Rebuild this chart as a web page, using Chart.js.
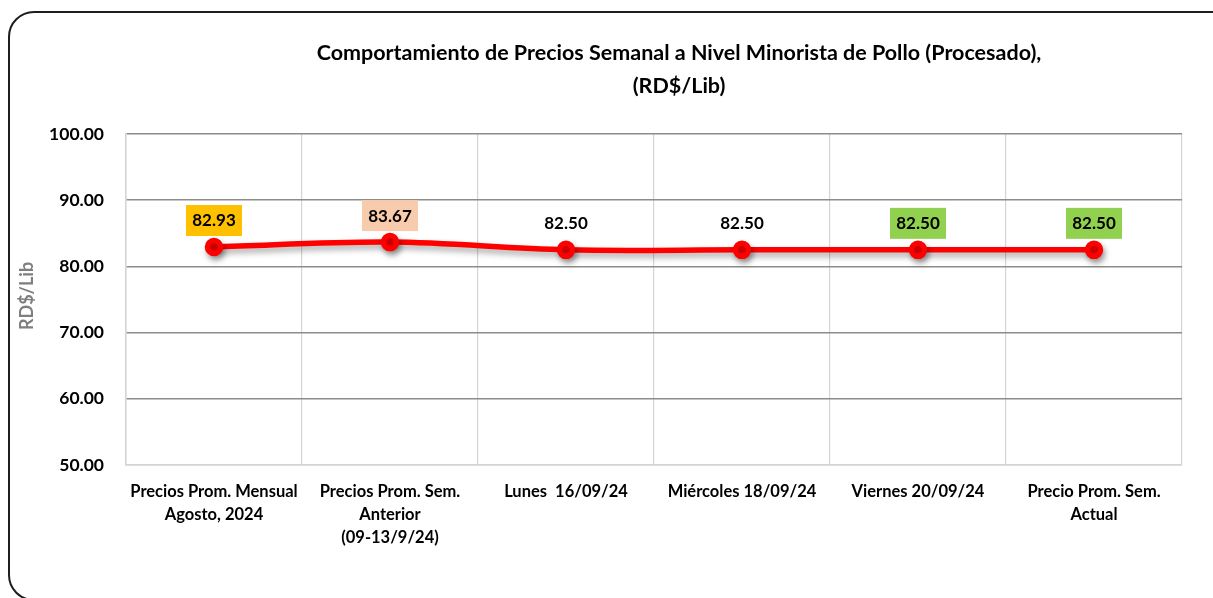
<!DOCTYPE html>
<html>
<head>
<meta charset="utf-8">
<script src="https://cdn.jsdelivr.net/npm/chart.js@4"></script>
<style>
  html, body { margin:0; padding:0; background:#fff; overflow:hidden; }
  #wrap { position:relative; width:1213px; height:598px; }
  #frame { position:absolute; left:8px; top:11px; width:1230px; height:590px; border:2px solid #1e1e1e; border-radius:26px; box-sizing:border-box; }
  canvas { position:absolute; left:0; top:0; }
</style>
</head>
<body>
<div id="wrap">
  <div id="frame"></div>
  <canvas id="c" width="1213" height="598"></canvas>
</div>
<script>
const categories = [
  ["Precios Prom. Mensual", "Agosto, 2024"],
  ["Precios Prom. Sem.", "Anterior", "(09-13/9/24)"],
  ["Lunes  16/09/24"],
  ["Miércoles 18/09/24"],
  ["Viernes 20/09/24"],
  ["Precio Prom. Sem.", "Actual"]
];
const prices = [82.93, 83.67, 82.50, 82.50, 82.50, 82.50];
const titleLines = ["Comportamiento de Precios Semanal a Nivel Minorista de Pollo (Procesado),", "(RD$/Lib)"];
const yAxisTitle = "RD$/Lib";
const yMin = 50, yMax = 100, yStep = 10;

const labelBg = ["#FFC000", "#F8CBAD", null, null, "#92D050", "#92D050"];
const FONT = "Lato, 'Open Sans', sans-serif";

const shadowPlugin = {
  id: 'shadow',
  beforeDatasetDraw(chart) {
    const ctx = chart.ctx;
    ctx.save();
    ctx.shadowColor = 'rgba(0,0,0,0.35)';
    ctx.shadowBlur = 6;
    ctx.shadowOffsetX = 2;
    ctx.shadowOffsetY = 4;
  },
  afterDatasetDraw(chart) { chart.ctx.restore(); }
};

const labelsPlugin = {
  id: 'valueLabels',
  afterDatasetsDraw(chart) {
    const ctx = chart.ctx;
    const meta = chart.getDatasetMeta(0);
    ctx.save();
    ctx.font = "bold 17px " + FONT;
    ctx.textAlign = 'center';
    ctx.textBaseline = 'middle';
    meta.data.forEach((pt, i) => {
      const txt = prices[i].toFixed(2);
      const cx = pt.x, cy = pt.y - 27;
      if (labelBg[i]) {
        ctx.fillStyle = labelBg[i];
        ctx.fillRect(cx - 28, cy - 15, 56, 31);
      }
      ctx.fillStyle = '#000';
      ctx.fillText(txt, cx, cy + 1);
    });
    ctx.restore();
  }
};

const textPlugin = {
  id: 'customTexts',
  afterDraw(chart) {
    const ctx = chart.ctx;
    ctx.save();
    ctx.font = "bold 21.5px " + FONT;
    ctx.fillStyle = '#000';
    ctx.textAlign = 'center';
    ctx.textBaseline = 'middle';
    ctx.fillText(titleLines[0], 679, 53);
    ctx.fillText(titleLines[1], 679, 86);
    ctx.restore();
    ctx.save();
    ctx.translate(27, 296);
    ctx.rotate(-Math.PI / 2);
    ctx.font = "bold 18px " + FONT;
    ctx.fillStyle = '#7f7f7f';
    ctx.textAlign = 'center';
    ctx.textBaseline = 'middle';
    ctx.fillText(yAxisTitle, 0, 0);
    ctx.restore();
  }
};

new Chart(document.getElementById('c'), {
  type: 'line',
  data: {
    labels: categories,
    datasets: [{
      data: prices,
      borderColor: '#FF0000',
      backgroundColor: '#FF0000',
      borderWidth: 5.5,
      pointRadius: 6.5,
      pointHoverRadius: 6.5,
      pointBackgroundColor: '#FF0000',
      pointBorderColor: '#FF0000',
      tension: 0.35,
      fill: false
    }]
  },
  options: {
    responsive: false,
    animation: false,
    events: [],
    layout: { padding: { top: 134, right: 31, bottom: 0, left: 0 } },
    plugins: { legend: { display: false }, tooltip: { enabled: false }, title: { display: false } },
    scales: {
      x: {
        offset: true,
        grid: { offset: true, color: '#d4d4d4', lineWidth: 1.2, drawTicks: false },
        border: { color: '#d4d4d4', width: 1.5 },
        ticks: { color: '#000', font: { family: FONT, size: 16.5, weight: 'bold', lineHeight: 1.4 }, padding: 15, maxRotation: 0, autoSkip: false },
        afterFit(s) { s.height = 133; }
      },
      y: {
        min: yMin, max: yMax,
        ticks: { stepSize: yStep, color: '#000', font: { family: FONT, size: 17.5, weight: 'bold' }, padding: 22, callback: v => Number(v).toFixed(2) },
        grid: { color: ctx => (ctx.tick && ctx.tick.value === yMin) ? '#d4d4d4' : '#8c8c8c', lineWidth: 1.5, drawTicks: false },
        border: { color: '#d4d4d4', width: 1.5 },
        title: { display: false },
        afterFit(s) { s.width = 126; }
      }
    }
  },
  plugins: [shadowPlugin, labelsPlugin, textPlugin]
});
</script>
</body>
</html>
